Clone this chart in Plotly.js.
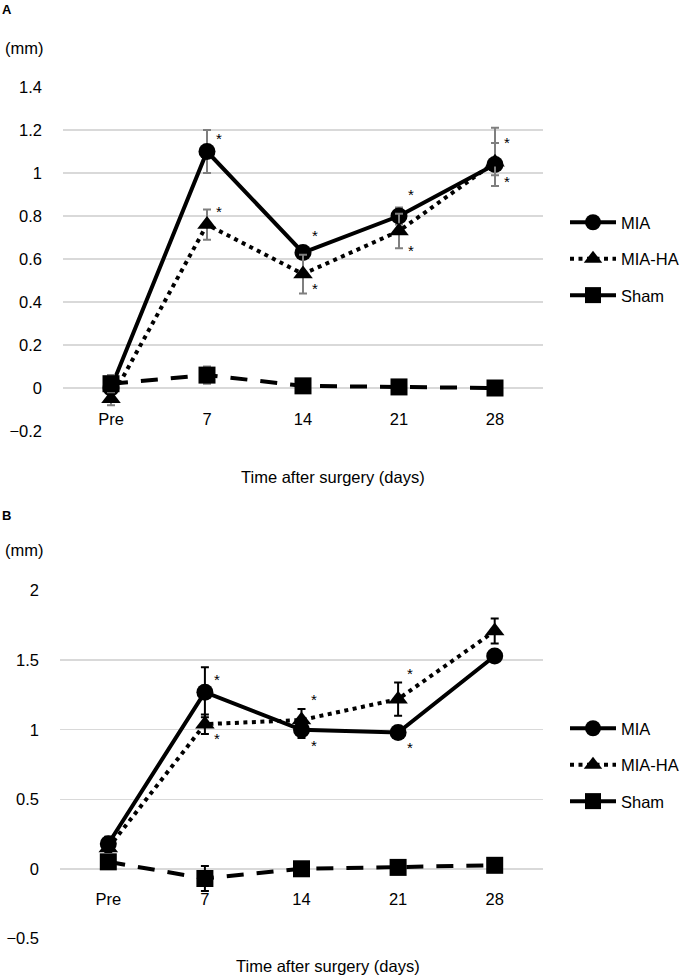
<!DOCTYPE html>
<html><head><meta charset="utf-8">
<script src="https://cdn.plot.ly/plotly-3.0.1.min.js"></script>
<style>html,body{margin:0;padding:0;background:#fff}</style>
</head><body><div id="chart" style="width:685px;height:975px"></div>
<script>
// ---- data ----
const categories = ['Pre', '7', '14', '21', '28'];
const seriesNames = ['MIA', 'MIA-HA', 'Sham'];

// Panel A
const aMIA = [0.00, 1.10, 0.63, 0.80, 1.04];
const aMIAErrUp = [0.03, 0.10, 0.03, 0.04, 0.10];
const aMIAErrDown = [0.03, 0.10, 0.03, 0.04, 0.10];
const aMIAHA = [-0.05, 0.76, 0.53, 0.73, 1.05];
const aMIAHAErrUp = [0.06, 0.07, 0.09, 0.08, 0.16];
const aMIAHAErrDown = [0.03, 0.07, 0.09, 0.08, 0.06];
const aSham = [0.02, 0.06, 0.01, 0.005, 0.00];
const aShamErr = [0.04, 0.04, 0.01, 0.01, 0.01];
const aStarCats = ['7', '7', '14', '14', '21', '21', '28', '28'];
const aStarVals = [1.17, 0.83, 0.72, 0.47, 0.91, 0.65, 1.15, 0.97];

// Panel B
const bMIA = [0.18, 1.27, 1.00, 0.98, 1.53];
const bMIAErr = [0.05, 0.18, 0.06, 0.04, 0.04];
const bMIAHA = [0.15, 1.04, 1.07, 1.22, 1.71];
const bMIAHAErr = [0.03, 0.07, 0.08, 0.12, 0.09];
const bSham = [0.05, -0.07, 0.00, 0.01, 0.025];
const bShamErr = [0.03, 0.09, 0.02, 0.02, 0.02];
const bStarCats = ['7', '7', '14', '14', '21', '21'];
const bStarVals = [1.375, 0.955, 1.23, 0.90, 1.42, 0.885];

const yTitle = '(mm)';
const xTitle = 'Time after surgery (days)';
const panelLabels = ['A', 'B'];

// ---- styling ----
const FONT = 'Liberation Sans, Arial, sans-serif';
const FS = 16.5;
const W = 685, H = 975;
const styles = [
  {symbol: 'circle', dash: 'solid'},
  {symbol: 'triangle-up', dash: '4px,4.5px'},
  {symbol: 'square', dash: '17px,13px'}
];

function mk(name, y, up, down, idx, xa, ya, leg, errColor) {
  return {
    type: 'scatter', mode: 'lines+markers', name: name,
    x: categories, y: y, xaxis: xa, yaxis: ya, legend: leg,
    legendgroup: leg + name,
    cliponaxis: false,
    line: {color: '#000', width: 4, dash: styles[idx].dash},
    marker: {color: '#000', size: 17, symbol: styles[idx].symbol},
    error_y: {type: 'data', symmetric: false, array: up, arrayminus: down,
              color: errColor, thickness: 2, width: 4}
  };
}

const grey = '#7f7f7f';
const traces = [
  mk(seriesNames[0], aMIA, aMIAErrUp, aMIAErrDown, 0, 'x', 'y', 'legend', grey),
  mk(seriesNames[1], aMIAHA, aMIAHAErrUp, aMIAHAErrDown, 1, 'x', 'y', 'legend', grey),
  mk(seriesNames[2], aSham, aShamErr, aShamErr, 2, 'x', 'y', 'legend', grey),
  mk(seriesNames[0], bMIA, bMIAErr, bMIAErr, 0, 'x2', 'y2', 'legend2', '#000'),
  mk(seriesNames[1], bMIAHA, bMIAHAErr, bMIAHAErr, 1, 'x2', 'y2', 'legend2', '#000'),
  mk(seriesNames[2], bSham, bShamErr, bShamErr, 2, 'x2', 'y2', 'legend2', '#000')
];

// plot area geometry (pixels)
const A = {l: 63, r: 543, t: 87, b: 431, ymin: -0.2, ymax: 1.4, dtick: 0.2};
const B = {l: 60, r: 543, t: 590.7, b: 938.3, ymin: -0.5, ymax: 2, dtick: 0.5};
function xd(p) { return [p.l / W, p.r / W]; }
function yd(p) { return [1 - p.b / H, 1 - p.t / H]; }
function zeroPos(p) { const d = yd(p); return d[0] + (d[1] - d[0]) * (0 - p.ymin) / (p.ymax - p.ymin); }

const tickfont = {family: FONT, size: FS, color: '#000'};
function xaxis(p) {
  return {domain: xd(p), type: 'category', range: [-0.5, 4.5], anchor: 'free',
          position: zeroPos(p), showgrid: false, zeroline: false, showline: false,
          ticks: '', ticklabelstandoff: 19, tickfont: tickfont, fixedrange: true};
}
function yaxis(p, xref) {
  return {domain: yd(p), anchor: xref, range: [p.ymin, p.ymax], dtick: p.dtick, tick0: 0,
          showgrid: true, gridcolor: '#d9d9d9', gridwidth: 1.5, zeroline: false,
          showline: false, ticks: '', ticklabelstandoff: 20, tickfont: tickfont,
          fixedrange: true};
}

const annotations = [];
function stars(cats, vals, xref, yref) {
  for (let i = 0; i < cats.length; i++) {
    annotations.push({x: categories.indexOf(cats[i]), y: vals[i], xref: xref, yref: yref,
      text: '*', showarrow: false, xshift: 12, yshift: -2,
      font: {family: FONT, size: 15, color: '#000'}});
  }
}
stars(aStarCats, aStarVals, 'x', 'y');
stars(bStarCats, bStarVals, 'x2', 'y2');

function paperText(text, x, y, xanchor, font) {
  annotations.push({text: text, x: x / W, y: 1 - y / H, xref: 'paper', yref: 'paper',
    xanchor: xanchor, yanchor: 'middle', showarrow: false, font: font});
}
const tf = {family: FONT, size: FS, color: '#000'};
paperText(xTitle, 333, 477, 'center', tf);
paperText(xTitle, 328, 966, 'center', tf);
paperText(yTitle, 3, 48, 'left', tf);
paperText(yTitle, 3, 550, 'left', tf);
paperText('<b>' + panelLabels[0] + '</b>', 0, 9, 'left', {family: FONT, size: 13, color: '#000'});
paperText('<b>' + panelLabels[1] + '</b>', 0, 515, 'left', {family: FONT, size: 13, color: '#000'});

const legFont = {family: FONT, size: FS, color: '#000'};
const layout = {
  width: W, height: H, margin: {l: 0, r: 0, t: 0, b: 0},
  paper_bgcolor: '#fff', plot_bgcolor: '#fff',
  font: {family: FONT, color: '#000'},
  xaxis: xaxis(A), yaxis: yaxis(A, 'x'),
  xaxis2: xaxis(B), yaxis2: yaxis(B, 'x2'),
  legend: {x: 565 / W, y: 1 - 205 / H, xanchor: 'left', yanchor: 'top',
           font: legFont, tracegroupgap: 12, itemwidth: 46, bgcolor: 'rgba(0,0,0,0)'},
  legend2: {x: 565 / W, y: 1 - 711 / H, xanchor: 'left', yanchor: 'top',
            font: legFont, tracegroupgap: 12, itemwidth: 46, bgcolor: 'rgba(0,0,0,0)'},
  showlegend: true,
  annotations: annotations
};
Plotly.newPlot('chart', traces, layout, {displayModeBar: false, staticPlot: true});
</script></body></html>
